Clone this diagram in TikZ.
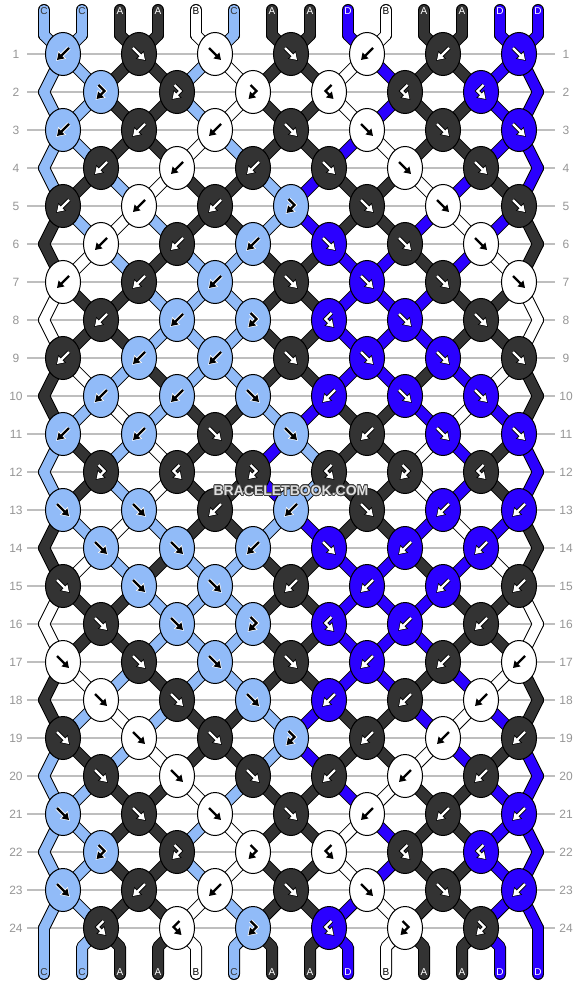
\documentclass[tikz,border=0pt]{standalone}
\usepackage{fontspec}
\setmainfont{Liberation Sans}
\usepackage{contour}
\contourlength{0.7pt}
\usetikzlibrary{shapes.geometric,arrows.meta}

\definecolor{colC}{RGB}{145,187,248}
\definecolor{colA}{RGB}{51,51,51}
\definecolor{colB}{RGB}{255,255,255}
\definecolor{colD}{RGB}{43,0,255}
\colorlet{arrC}{black}\colorlet{haloC}{white}
\colorlet{arrA}{white}\colorlet{haloA}{black}
\colorlet{arrB}{black}\colorlet{haloB}{white}
\colorlet{arrD}{white}\colorlet{haloD}{black}
\colorlet{labC}{colA}\colorlet{labA}{white}
\colorlet{labB}{black}\colorlet{labD}{white}
\definecolor{rowgray}{RGB}{190,190,190}
\definecolor{numgray}{RGB}{150,150,150}

% all string pieces, drawn with the style given
\newcommand\drawstrings[1]{%
  \foreach \i in {0,...,13} {
    \edef\sc{\csname c-1-\i\endcsname}
    \draw[#1] (top-\i) -- (p-0-\i);
    \edef\sc{\csname c-25-\i\endcsname}
    \draw[#1] (p-24-\i) -- (q-\i) -- (bot-\i);
  }
  \foreach \rw in {1,...,24} {
    \pgfmathtruncatemacro\rp{\rw-1}
    \foreach \i in {0,...,13} {
      \edef\sc{\csname c-\rw-\i\endcsname}
      \draw[#1] (p-\rp-\i) -- (p-\rw-\i);
    }
  }}

\begin{document}
\begin{tikzpicture}[x=1pt, y=-1pt,
    knot/.style={ellipse, draw=black, line width=1pt, minimum width=35pt,
      minimum height=43pt, inner sep=0pt},
    bandline/.style={draw=black, line width=12pt, line cap=round, line join=round},
    band/.style={line width=10pt, line cap=round, line join=round},
    rownum/.style={text=numgray, font=\fontsize{12}{12}\selectfont, inner sep=0pt},
    rowline/.style={draw=rowgray, line width=1.5pt},
    strlabel/.style={font=\fontsize{10}{10}\selectfont, inner sep=0pt},
    halo/.style={line width=4pt, shorten >=-1.2pt, -{Triangle[length=8.5pt,width=10.5pt]}},
    arrow/.style={line width=2.2pt, -{Triangle[length=6.5pt,width=8pt]}}
  ]
  \useasboundingbox (0,0) rectangle (582,984);
  \fill[white] (0,0) rectangle (582,984);

  % Strings at the top
  \foreach \sc [count=\i from 0] in {C,C,A,A,B,C,A,A,D,B,A,A,D,D} {
    \expandafter\xdef\csname s\i\endcsname{\sc}
    \coordinate (top-\i) at (44+38*\i, 10);
    \coordinate (p-0-\i) at (44+38*\i, 35);
    \coordinate (q-\i) at (44+38*\i, 947);
    \coordinate (bot-\i) at (44+38*\i, 974);
  }

  % Knot rows: f = forward, b = backward, p = forward-backward, q = backward-forward
  % (first pass: follow the strings, keep the colours)
  \foreach \row [count=\rw] in {
      {b,f,f,f,b,b,f}, {p,p,p,q,q,q}, {b,b,b,f,f,f,f}, {b,b,b,f,f,f},
      {b,b,b,p,f,f,f}, {b,b,b,f,f,f}, {b,b,b,f,f,f,f}, {b,b,p,q,f,f},
      {b,b,b,f,f,f,f}, {b,b,f,b,f,f}, {b,b,f,f,b,f,f}, {p,q,p,q,p,q},
      {f,f,b,b,f,b,b}, {f,f,b,f,b,b}, {f,f,f,b,b,b,b}, {f,f,p,q,b,b},
      {f,f,f,f,b,b,b}, {f,f,f,b,b,b}, {f,f,f,p,b,b,b}, {f,f,f,b,b,b},
      {f,f,f,f,b,b,b}, {p,p,p,q,q,q}, {f,b,b,f,f,f,b}, {q,q,p,q,p,p}} {
    \pgfmathtruncatemacro\odd{mod(\rw,2)}
    \pgfmathtruncatemacro\yy{16+38*\rw}
    \foreach \i in {0,...,13} {
      \ifnum\odd=1
        \pgfmathtruncatemacro\xx{63+38*(\i-mod(\i,2))}
      \else
        \pgfmathtruncatemacro\xx{\i==0 ? 44 : (\i==13 ? 538 : 63+38*(\i-1+mod(\i,2)))}
      \fi
      \coordinate (p-\rw-\i) at (\xx,\yy);
      \expandafter\xdef\csname c-\rw-\i\endcsname{\csname s\i\endcsname}
    }
    \foreach \kt [count=\kn from 0] in \row {
      \pgfmathtruncatemacro\lft{1-\odd+2*\kn}
      \pgfmathtruncatemacro\rgt{\lft+1}
      \edef\lc{\csname s\lft\endcsname}
      \edef\rc{\csname s\rgt\endcsname}
      \if\kt f\let\kc\lc
        \expandafter\xdef\csname s\lft\endcsname{\rc}%
        \expandafter\xdef\csname s\rgt\endcsname{\lc}\fi
      \if\kt b\let\kc\rc
        \expandafter\xdef\csname s\lft\endcsname{\rc}%
        \expandafter\xdef\csname s\rgt\endcsname{\lc}\fi
      \if\kt p\let\kc\lc\fi
      \if\kt q\let\kc\rc\fi
      \expandafter\xdef\csname kc-\rw-\kn\endcsname{\kc}
      \expandafter\xdef\csname kt-\rw-\kn\endcsname{\kt}
    }
  }
  \foreach \i in {0,...,13} {
    \expandafter\xdef\csname c-25-\i\endcsname{\csname s\i\endcsname}
  }

  % Row guides and numbers
  \foreach \rw in {1,...,24} {
    \pgfmathtruncatemacro\yy{16+38*\rw}
    \coordinate (gl-\rw) at (27,\yy);
    \coordinate (gr-\rw) at (555,\yy);
    \draw[rowline] (gl-\rw) -- (gr-\rw);
    \node[rownum] (nl-\rw) at (16,\yy) {\rw};
    \node[rownum] (nr-\rw) at (566,\yy) {\rw};
  }

  % Strings: black edges first, then colours
  \drawstrings{bandline}
  \drawstrings{band, draw=col\sc}

  % String letters
  \foreach \i in {0,...,13} {
    \edef\sc{\csname c-1-\i\endcsname}
    \node[strlabel, text=lab\sc] (lt-\i) at (44+38*\i, 11) {\sc};
    \edef\sc{\csname c-25-\i\endcsname}
    \node[strlabel, text=lab\sc] (lb-\i) at (44+38*\i, 972) {\sc};
  }

  % Knots
  \foreach \rw in {1,...,24} {
    \pgfmathtruncatemacro\odd{mod(\rw,2)}
    \pgfmathtruncatemacro\last{5+\odd}
    \pgfmathtruncatemacro\yy{16+38*\rw}
    \foreach \kn in {0,...,\last} {
      \pgfmathtruncatemacro\xk{63+38*(1-\odd+2*\kn)}
      \edef\kc{\csname kc-\rw-\kn\endcsname}
      \edef\kt{\csname kt-\rw-\kn\endcsname}
      \if\kt f\def\icn{(-6,-6) -- (6,6)}\fi
      \if\kt b\def\icn{(6,-6) -- (-6,6)}\fi
      \if\kt p\def\icn{(-2.5,-7) -- (3.5,-1) -- (-4.5,7)}\fi
      \if\kt q\def\icn{(2.5,-7) -- (-3.5,-1) -- (4.5,7)}\fi
      \node[knot, fill=col\kc] (k-\rw-\kn) at (\xk,\yy) {};
      \begin{scope}[shift={(k-\rw-\kn.center)}]
        \draw[halo, draw=halo\kc] \icn;
        \draw[arrow, draw=arr\kc] \icn;
      \end{scope}
    }
  }

  \node[text=gray!25, font=\bfseries\fontsize{14}{14}\selectfont] (mark) at (291,491)
    {\contour{black!75}{BRACELETBOOK.COM}};
\end{tikzpicture}
\end{document}
